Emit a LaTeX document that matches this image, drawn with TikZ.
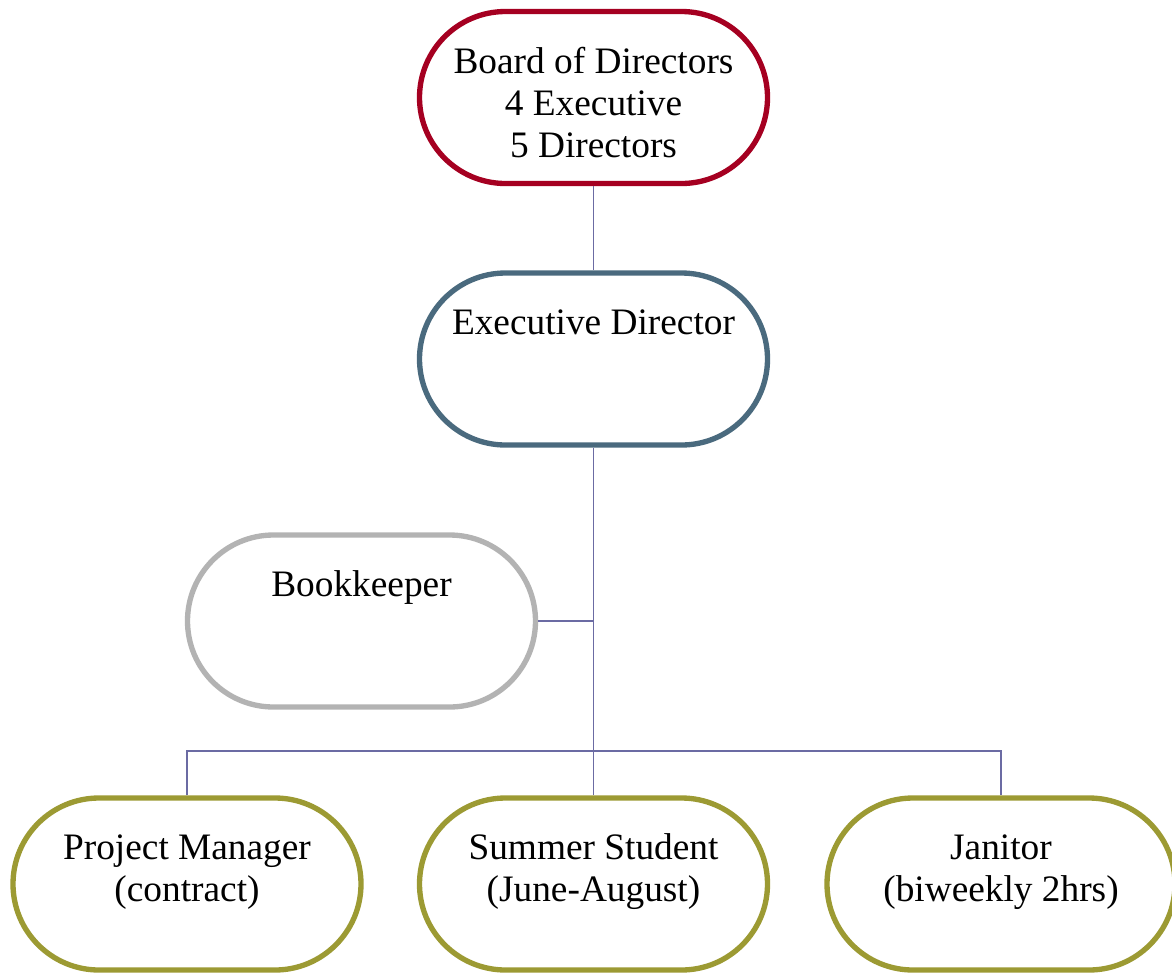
\documentclass[tikz,border=0pt]{standalone}
\usepackage{fontspec}
\setmainfont{Liberation Serif}
\definecolor{boardc}{HTML}{A50021}
\definecolor{execc}{HTML}{4A6A7E}
\definecolor{bookc}{HTML}{B3B3B3}
\definecolor{olivec}{HTML}{9C9A33}
\definecolor{connc}{HTML}{6B6BA3}
\begin{document}
\begin{tikzpicture}[x=0.75pt,y=-0.75pt,
  box/.style={draw, line width=4pt, rounded corners=64.5pt, minimum width=261pt, minimum height=129pt, inner sep=0pt, fill=white},
  txt/.style={anchor=base, inner sep=0pt, font=\fontsize{28}{32}\selectfont},
  conn/.style={draw=connc, line width=1.3pt}]
\useasboundingbox (0,0) rectangle (1172,972);
\node[box, draw=boardc] (board) at (593.5,97.5) {};
\node[box, draw=execc] (exec) at (593.5,359) {};
\node[box, draw=bookc] (book) at (361.5,621) {};
\node[box, draw=olivec] (pm) at (187,884) {};
\node[box, draw=olivec] (ss) at (593.5,884) {};
\node[box, draw=olivec] (jan) at (1001,884) {};
\coordinate (hub) at (593.5,751);
\draw[conn] (board.south) -- (exec.north);
\draw[conn] (exec.south) -- (ss.north);
\draw[conn] (book.east) -- (book.east -| exec.south);
\draw[conn] (pm.north) |- (hub) -| (jan.north);
\node[txt] (b1) at (593.5,73) {Board of Directors};
\node[txt] (b2) at (593.5,115) {4 Executive};
\node[txt] (b3) at (593.5,157) {5 Directors};
\node[txt] (e1) at (593.5,334) {Executive Director};
\node[txt] (k1) at (361.5,596) {Bookkeeper};
\node[txt] (p1) at (187,859) {Project Manager};
\node[txt] (p2) at (187,901) {(contract)};
\node[txt] (s1) at (593.5,859) {Summer Student};
\node[txt] (s2) at (593.5,901) {(June-August)};
\node[txt] (j1) at (1001,859) {Janitor};
\node[txt] (j2) at (1001,901) {(biweekly 2hrs)};
\end{tikzpicture}
\end{document}
